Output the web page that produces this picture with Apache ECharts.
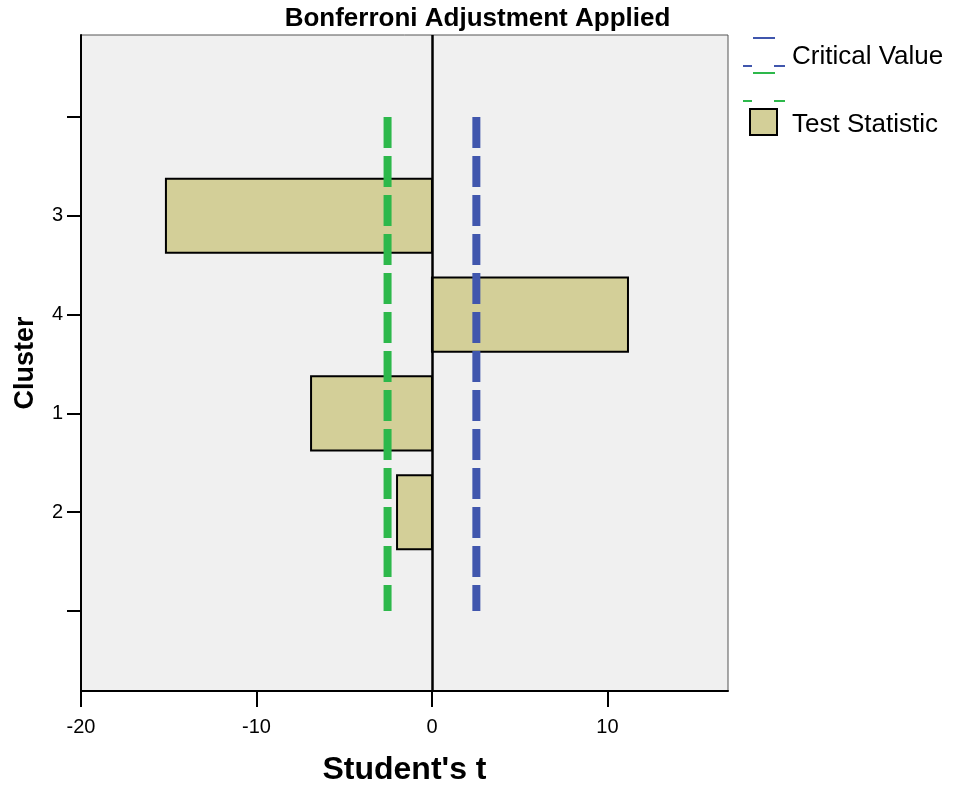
<!DOCTYPE html>
<html>
<head>
<meta charset="utf-8">
<script src="https://cdn.jsdelivr.net/npm/echarts@6/dist/echarts.min.js"></script>
<style>
  html, body { margin: 0; padding: 0; background: #fff; }
  #chart { width: 955px; height: 788px; }
</style>
</head>
<body>
<div id="chart"></div>
<script>
// Cluster test statistics (Student's t), top to bottom
var clusters = ['3', '4', '1', '2'];
var clusterRows = [1, 2, 3, 4];
var testStatistic = [-15.16, 11.17, -6.89, -1.99];

// Bonferroni-adjusted critical values
var criticalUpper = 2.53;
var criticalLower = -2.53;
var criticalSpan = [0, 5];

// Axis ticks
var xTicks = [-20, -10, 0, 10];
var yTicks = [0, 1, 2, 3, 4, 5];
var yTickLabels = ['', '3', '4', '1', '2', ''];

var FONT = '"Liberation Sans", Arial, sans-serif';

var barData = clusterRows.map(function (r, i) { return [testStatistic[i], r, clusters[i]]; });

var chart = echarts.init(document.getElementById('chart'), null, { renderer: 'canvas' });

chart.setOption({
  animation: false,
  backgroundColor: '#ffffff',
  title: {
    text: 'Bonferroni Adjustment Applied',
    left: 'center',
    top: 6,
    padding: 0,
    textStyle: { fontFamily: FONT, fontSize: 26, fontWeight: 'bold', color: '#000' }
  },
  grid: {
    left: 81, right: 227, top: 35, bottom: 97,
    containLabel: false,
    outerBoundsMode: 'none',
    show: true,
    backgroundColor: '#f0f0f0',
    borderColor: '#555',
    borderWidth: 1
  },
  xAxis: {
    type: 'value',
    min: -20,
    max: 16.87,
    interval: 10,
    name: "Student's t",
    nameLocation: 'middle',
    nameGap: 63,
    nameTextStyle: { fontFamily: FONT, fontSize: 32, fontWeight: 'bold', color: '#000' },
    splitLine: { show: false },
    axisLine: { show: true, onZero: false, lineStyle: { color: '#000', width: 2 } },
    axisTick: { show: true, length: 16, customValues: xTicks, lineStyle: { color: '#000', width: 2 } },
    axisLabel: { customValues: xTicks, margin: 26, fontFamily: FONT, fontSize: 20, color: '#000' }
  },
  yAxis: {
    type: 'value',
    inverse: true,
    min: -0.83,
    max: 5.81,
    name: 'Cluster',
    nameLocation: 'middle',
    nameGap: 42,
    nameRotate: 90,
    nameTextStyle: { fontFamily: FONT, fontSize: 27, fontWeight: 'bold', color: '#000' },
    splitLine: { show: false },
    axisLine: { show: true, onZero: false, lineStyle: { color: '#000', width: 2 } },
    axisTick: { show: true, length: 14, customValues: yTicks, lineStyle: { color: '#000', width: 2 } },
    axisLabel: {
      customValues: yTicks,
      margin: 18,
      fontFamily: FONT, fontSize: 20, color: '#000',
      formatter: function (v) { var s = yTickLabels[Math.round(v)]; return s == null ? '' : s; }
    }
  },
  series: [
    {
      type: 'custom',
      name: 'Test Statistic',
      z: 2,
      data: barData,
      encode: { x: 0, y: 1 },
      renderItem: function (params, api) {
        var v = api.value(0), r = api.value(1);
        var p0 = api.coord([0, r]);
        var p1 = api.coord([v, r]);
        var h = api.size([0, 0.75])[1];
        var x = Math.min(p0[0], p1[0]);
        var w = Math.abs(p1[0] - p0[0]);
        return {
          type: 'rect',
          shape: { x: x, y: p0[1] - h / 2, width: w, height: h },
          style: { fill: '#d3cf98', stroke: '#000', lineWidth: 2 }
        };
      }
    },
    {
      type: 'line',
      name: 'Zero',
      z: 3,
      data: [],
      silent: true,
      markLine: {
        silent: true,
        symbol: ['none', 'none'],
        label: { show: false },
        lineStyle: { color: '#000', width: 2.5, type: 'solid' },
        data: [{ xAxis: 0 }]
      }
    },
    {
      type: 'line',
      name: 'Critical Lower',
      z: 4,
      symbol: 'none',
      silent: true,
      data: criticalSpan.map(function (y) { return [criticalLower, y]; }),
      lineStyle: { color: '#2db84b', width: 8, type: [31, 8], cap: 'butt' }
    },
    {
      type: 'line',
      name: 'Critical Upper',
      z: 4,
      symbol: 'none',
      silent: true,
      data: criticalSpan.map(function (y) { return [criticalUpper, y]; }),
      lineStyle: { color: '#4056ad', width: 8, type: [31, 8], cap: 'butt' }
    }
  ],
  graphic: [
    // Critical Value key
    { type: 'line', shape: { x1: 753, y1: 38, x2: 775, y2: 38 }, style: { stroke: '#4056ad', lineWidth: 2 } },
    { type: 'line', shape: { x1: 743, y1: 66, x2: 752, y2: 66 }, style: { stroke: '#4056ad', lineWidth: 2 } },
    { type: 'line', shape: { x1: 774, y1: 66, x2: 785, y2: 66 }, style: { stroke: '#4056ad', lineWidth: 2 } },
    { type: 'line', shape: { x1: 753, y1: 73, x2: 775, y2: 73 }, style: { stroke: '#2db84b', lineWidth: 2 } },
    { type: 'line', shape: { x1: 743, y1: 101, x2: 752, y2: 101 }, style: { stroke: '#2db84b', lineWidth: 2 } },
    { type: 'line', shape: { x1: 774, y1: 101, x2: 785, y2: 101 }, style: { stroke: '#2db84b', lineWidth: 2 } },
    {
      type: 'text', left: 792, top: 44,
      style: { text: 'Critical Value', fontFamily: FONT, fontSize: 26, fill: '#000' }
    },
    // Test Statistic key
    { type: 'rect', shape: { x: 750, y: 109, width: 27, height: 26 }, style: { fill: '#d3cf98', stroke: '#000', lineWidth: 2 } },
    {
      type: 'text', left: 792, top: 112,
      style: { text: 'Test Statistic', fontFamily: FONT, fontSize: 26, fill: '#000' }
    }
  ]
});
</script>
</body>
</html>
